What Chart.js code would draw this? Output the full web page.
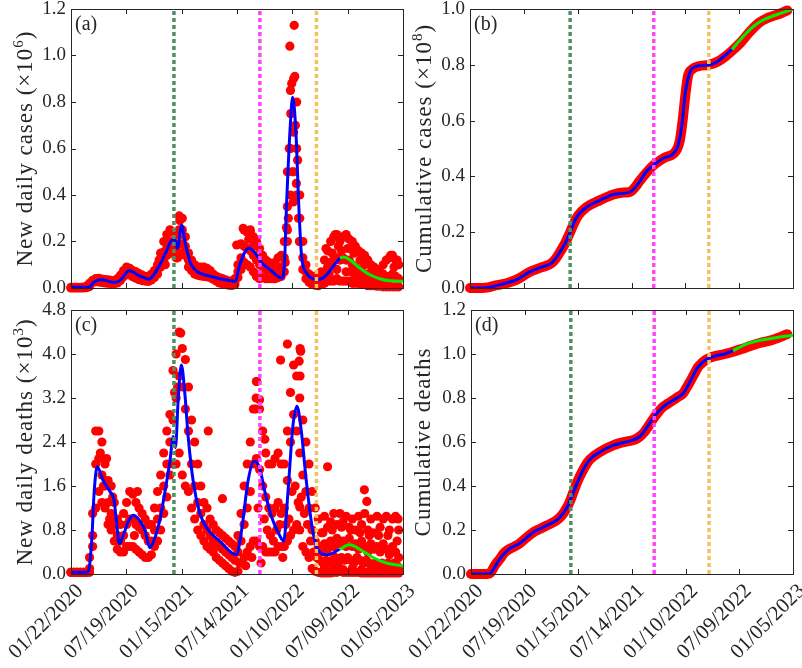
<!DOCTYPE html>
<html>
<head>
<meta charset="utf-8">
<script src="https://cdn.jsdelivr.net/npm/chart.js@4.4.0/dist/chart.umd.min.js"></script>
<style>
  body { margin: 0; background: #fff; width: 802px; height: 668px; overflow: hidden; position: relative; }
  canvas { position: absolute; left: 0; top: 0; }
</style>
</head>
<body>
<canvas id="chartA" width="802" height="668"></canvas>
<canvas id="chartB" width="802" height="668"></canvas>
<canvas id="chartC" width="802" height="668"></canvas>
<canvas id="chartD" width="802" height="668"></canvas>
<script>
// --- AXES (jours depuis le 01/22/2020) ---
const xTickDays = [0, 179, 358, 537, 716, 895, 1074];
const xTickLabels = ['01/22/2020', '07/19/2020', '01/15/2021', '07/14/2021', '01/10/2022', '07/09/2022', '01/05/2023'];
const eventDays = [333, 611, 794];
const eventColors = ['#4f8f62', '#ff44ff', '#f2c25e'];

const yTicksA = [0, 0.2, 0.4, 0.6, 0.8, 1.0, 1.2];
const yTicksB = [0, 0.2, 0.4, 0.6, 0.8, 1.0];
const yTicksC = [0, 0.8, 1.6, 2.4, 3.2, 4.0, 4.8];
const yTicksD = [0, 0.2, 0.4, 0.6, 0.8, 1.0, 1.2];

// --- DONNEES OBSERVEES (points rouges) ---
const sampleDays = [0,10,20,30,40,50,60,70,80,90,100,110,120,130,140,150,160,170,180,190,200,210,220,230,240,250,260,270,280,290,300,310,320,330,340,350,360,370,380,390,400,410,420,430,440,450,460,470,480,490,500,510,520,530,540,550,560,570,580,590,600,610,620,630,640,650,660,670,680,690,700,710,720,730,740,750,760,770,780,790,800,810,820,830,840,850,860,870,880,890,900,910,920,930,940,950,960,970,980,990,1000,1010,1020,1030,1040,1050,1060];

// nouveaux cas journaliers (x10^6)
const casesHi = [0.003,0.003,0.003,0.003,0.004,0.008,0.02,0.033,0.04,0.042,
  0.038,0.036,0.035,0.033,0.032,0.04,0.055,0.075,0.09,0.085,
  0.075,0.07,0.062,0.055,0.05,0.05,0.06,0.075,0.1,0.15,
  0.2,0.23,0.25,0.24,0.23,0.31,0.3,0.22,0.15,0.12,
  0.1,0.09,0.09,0.09,0.085,0.075,0.06,0.05,0.045,0.04,
  0.035,0.03,0.03,0.04,0.1,0.19,0.25,0.24,0.24,0.22,
  0.2,0.17,0.14,0.12,0.11,0.1,0.11,0.13,0.14,0.2,
  0.5,0.85,0.9,0.8,0.4,0.2,0.1,0.06,0.05,0.05,
  0.06,0.07,0.12,0.16,0.2,0.22,0.23,0.2,0.22,0.23,
  0.21,0.2,0.18,0.16,0.15,0.14,0.12,0.1,0.09,0.08,
  0.07,0.06,0.12,0.13,0.14,0.12,0.1];
const casesMid = [0.001,0.001,0.001,0.001,0.002,0.004,0.012,0.028,0.033,0.034,
  0.031,0.029,0.027,0.025,0.024,0.03,0.042,0.06,0.072,0.07,
  0.062,0.056,0.048,0.043,0.04,0.038,0.046,0.06,0.08,0.12,
  0.155,0.185,0.2,0.2,0.17,0.25,0.25,0.18,0.12,0.095,
  0.08,0.07,0.07,0.068,0.065,0.058,0.048,0.04,0.032,0.028,
  0.024,0.02,0.02,0.025,0.07,0.13,0.18,0.17,0.16,0.14,
  0.12,0.1,0.09,0.08,0.075,0.07,0.07,0.08,0.09,0.13,
  0.35,0.6,0.67,0.6,0.3,0.13,0.07,0.04,0.035,0.03,
  0.035,0.04,0.06,0.09,0.11,0.12,0.13,0.12,0.13,0.12,
  0.12,0.1,0.09,0.08,0.07,0.06,0.05,0.045,0.04,0.035,
  0.03,0.03,0.04,0.05,0.06,0.05,0.04];
const casesLo = [0,0,0,0,0,0.001,0.006,0.024,0.027,0.026,
  0.024,0.022,0.02,0.019,0.018,0.022,0.032,0.048,0.058,0.056,
  0.048,0.042,0.036,0.032,0.03,0.028,0.034,0.045,0.06,0.09,
  0.12,0.14,0.16,0.15,0.13,0.19,0.19,0.14,0.09,0.075,
  0.06,0.055,0.052,0.05,0.048,0.045,0.038,0.03,0.022,0.018,
  0.015,0.012,0.011,0.014,0.045,0.08,0.11,0.1,0.09,0.07,
  0.06,0.05,0.045,0.04,0.04,0.04,0.04,0.045,0.05,0.07,
  0.25,0.4,0.5,0.4,0.2,0.08,0.04,0.025,0.015,0.012,
  0.01,0.015,0.02,0.03,0.03,0.03,0.04,0.03,0.03,0.03,
  0.03,0.02,0.02,0.02,0.015,0.015,0.01,0.01,0.01,0.008,
  0.008,0.005,0.005,0.005,0.005,0.005,0.005];
const casesExtra = [[703,0.3],[706,0.6],[708,1.04],[711,0.75],[714,0.88],[716,0.5],[719,0.37],[722,1.13],
  [724,0.91],[726,0.7],[729,0.45],[733,0.55],[736,0.3],[739,0.2],[700,0.2],[697,0.26],[693,0.11],
  [557,0.257],[580,0.25],[536,0.185],[600,0.05],[610,0.04],[575,0.21],[590,0.18],
  [825,0.17],[845,0.15],[855,0.23],[865,0.18],[883,0.22],[895,0.17],[905,0.07],[915,0.15],[935,0.12],
  [950,0.1],[970,0.07],[990,0.06],[1010,0.1],[1034,0.14],[1045,0.09],[1055,0.12],
  [835,0.06],[860,0.08],[875,0.16],[890,0.07],[920,0.05],[945,0.04],[975,0.03],[1000,0.05],[1025,0.02],
  [285,0.12],[305,0.1],[330,0.18],[345,0.13],[352,0.29],[357,0.15]];

// nouveaux deces journaliers (x10^3)
const deathsHi = [0.03,0.03,0.03,0.03,0.03,0.03,0.3,1.1,2.6,2.6,
  2.4,2.0,1.7,1.6,1.3,1.0,0.9,1.1,1.3,1.5,
  1.45,1.3,1.2,1.1,1.0,0.9,0.9,1.2,1.5,1.8,
  2.2,2.6,2.9,3.7,4.0,4.4,4.1,3.9,3.4,2.8,
  2.4,2.0,1.6,1.3,1.2,1.0,0.9,0.8,0.75,0.7,
  0.65,0.6,0.55,0.5,0.7,1.1,1.6,2.0,2.4,3.0,
  3.5,3.0,2.6,2.2,2.0,2.0,2.1,2.2,2.0,2.0,
  2.6,3.3,3.8,3.6,3.2,2.8,2.4,2.0,1.5,1.2,
  1.0,0.75,1.05,0.85,0.95,1.1,0.9,1.1,0.95,1.05,
  0.85,1.0,0.8,1.05,0.9,1.1,0.8,1.0,0.75,1.05,
  0.85,1.0,1.05,0.8,1.0,1.05,0.8];
const deathsMid = [0.03,0.03,0.03,0.03,0.03,0.03,0.1,0.7,2.0,2.1,
  1.8,1.6,1.3,1.1,0.9,0.7,0.6,0.7,0.9,1.0,
  1.0,0.9,0.85,0.8,0.7,0.6,0.6,0.8,1.0,1.2,
  1.6,2.0,2.4,2.8,3.2,3.6,3.4,3.0,2.6,2.0,
  1.6,1.3,1.1,0.9,0.8,0.7,0.6,0.55,0.5,0.45,
  0.4,0.35,0.3,0.25,0.4,0.6,0.9,1.2,1.5,2.0,
  2.1,1.9,1.6,1.4,1.2,1.1,1.2,1.3,1.1,1.2,
  1.7,2.4,2.9,2.6,2.2,1.8,1.5,1.2,0.8,0.6,
  0.5,0.4,0.55,0.45,0.6,0.5,0.65,0.55,0.6,0.5,
  0.65,0.5,0.55,0.45,0.6,0.5,0.4,0.55,0.45,0.5,
  0.4,0.55,0.45,0.35,0.5,0.4,0.3];
const deathsLo = [0.03,0.03,0.03,0.03,0.03,0.03,0.03,0.5,1.2,1.5,
  1.3,1.2,0.9,0.8,0.6,0.45,0.4,0.4,0.5,0.5,
  0.5,0.45,0.4,0.35,0.3,0.3,0.35,0.5,0.6,0.8,
  1.1,1.4,1.8,2.0,2.0,2.2,1.8,1.6,1.5,1.2,
  1.0,0.8,0.7,0.6,0.5,0.45,0.4,0.3,0.25,0.2,
  0.15,0.1,0.05,0.03,0.05,0.2,0.3,0.4,0.5,0.6,
  0.6,0.5,0.5,0.4,0.4,0.4,0.4,0.5,0.5,0.5,
  0.6,0.7,0.8,0.9,0.8,0.5,0.4,0.3,0.1,0.05,
  0.03,0.02,0.02,0.02,0.02,0.03,0.03,0.05,0.03,0.03,
  0.03,0.03,0.03,0.03,0.02,0.02,0.02,0.02,0.02,0.02,
  0.02,0.02,0.02,0.02,0.02,0.02,0.02];
const deathsExtra = [[700,4.18],[741,4.1],[743,4.05],[678,3.89],[738,3.87],[741,3.6],[601,3.5],[599,3.2],
  [610,3.17],[597,3.0],[627,2.45],[830,1.95],[949,1.53],[957,1.32],[740,1.22],[444,2.6],[490,1.37],
  [355,4.38],[345,3.4],[335,3.3],[95,2.2],[105,1.6],[115,2.1],[125,1.0],[135,1.4],[205,0.7],[215,1.5],
  [545,0.2],[565,0.15],[585,0.3],[605,1.2],[615,0.2],[625,1.0],[635,0.8],[645,0.7],[655,0.6],[665,0.8],
  [675,0.9],[685,0.3],[695,0.9],[705,1.0],[715,1.5],[725,1.6],[735,1.3],[745,1.4],[755,1.1],[765,0.9],
  [775,0.6],[785,0.4],[795,0.3],[805,0.25],[815,0.2],[825,0.25],[835,0.2],[845,0.25],[855,0.3],[865,0.2],
  [875,0.3],[885,0.25],[895,0.3],[905,0.25],[915,0.2],[925,0.3],[935,0.25],[945,0.2],[955,0.25],[965,0.2],
  [975,0.15],[985,0.2],[995,0.15],[1005,0.2],[1015,0.15],[1025,0.2],[1035,0.15],[1045,0.2],[1055,0.15],
  [815,0.75],[845,0.8],[875,0.85],[905,0.8],[935,0.75],[965,0.7],[995,0.7],[1025,0.7],[1055,0.6],[1058,1.0],
  [820,0.1],[850,0.12],[880,0.08],[910,0.1],[940,0.08],[970,0.1],[1000,0.08],[1030,0.1],[1060,0.08]];

// cumuls observes
const cumCasesDays = [0,40,60,80,100,130,155,175,194,215,235,255,272,285,300,316,333,345,360,388,433,477,510,533,548,565,588,610,643,688,698,707,716,725,740,760,793,821,849,871,900,930,960,990,1030,1055];
const cumCasesObs = [0,0,0.002,0.008,0.012,0.02,0.03,0.042,0.055,0.065,0.073,0.08,0.09,0.105,0.13,0.16,0.2,0.23,0.26,0.29,0.315,0.335,0.342,0.345,0.36,0.385,0.415,0.44,0.465,0.497,0.53,0.6,0.69,0.76,0.785,0.795,0.8,0.81,0.83,0.85,0.88,0.918,0.95,0.968,0.983,0.995];
const cumDeathsDays = [0,55,65,80,97,110,124,145,163,185,208,230,252,275,291,305,319,330,341,355,369,383,396,430,474,505,530,548,563,578,591,603,613,627,641,657,674,690,707,718,729,743,757,771,785,800,813,830,846,874,918,963,1007,1055];
const cumDeathsObs = [0,0,0.005,0.04,0.07,0.095,0.11,0.125,0.14,0.165,0.19,0.205,0.22,0.235,0.25,0.27,0.3,0.33,0.37,0.42,0.46,0.495,0.52,0.555,0.585,0.598,0.605,0.612,0.625,0.645,0.67,0.695,0.715,0.74,0.76,0.775,0.79,0.805,0.82,0.845,0.87,0.905,0.94,0.96,0.975,0.985,0.99,0.995,1.0,1.01,1.03,1.05,1.065,1.09];

// --- MODELE (bleu = ajustement, vert = prevision) ---
const fitDaysA = [0,59,70,80,100,140,161,188,225,252,279,306,328,336,344,358,370,387,408,440,483,532,542,558,575,596,618,644,682,690,698,709,717,728,736,746,762,784,800,822,848,870];
const fitCasesA = [0.003,0.003,0.02,0.03,0.035,0.024,0.035,0.074,0.05,0.038,0.08,0.15,0.207,0.207,0.17,0.27,0.19,0.107,0.07,0.054,0.04,0.029,0.08,0.143,0.171,0.15,0.107,0.079,0.043,0.093,0.38,0.69,0.82,0.66,0.38,0.136,0.064,0.039,0.036,0.05,0.093,0.129];
const predDaysA = [870,881,902,934,967,999,1031,1074];
const predCasesA = [0.129,0.133,0.121,0.086,0.057,0.04,0.031,0.029];

const fitDaysB = [0,40,67,100,155,194,233,272,294,316,333,355,388,433,477,533,560,588,610,643,688,704,716,730,754,793,821,849,871];
const fitCasesB = [0,0,0.003,0.012,0.03,0.055,0.073,0.09,0.12,0.16,0.2,0.255,0.29,0.315,0.335,0.345,0.375,0.42,0.44,0.465,0.5,0.58,0.7,0.77,0.795,0.8,0.81,0.835,0.855];
const predDaysB = [871,895,920,945,970,1000,1035,1074];
const predCasesB = [0.855,0.885,0.915,0.94,0.958,0.972,0.985,1.0];

const fitDaysC = [0,50,56,67,75,85,104,126,139,148,156,169,185,201,218,239,255,271,288,304,320,331,338,347,357,368,379,395,417,444,481,535,552,573,592,609,627,648,675,688,702,718,731,745,761,783,804,831,869];
const fitDeathsC = [0.03,0.03,0.05,0.6,1.5,1.95,1.7,1.5,1.35,0.9,0.55,0.7,0.95,1.07,1.0,0.8,0.48,0.65,1.0,1.5,2.05,2.5,2.3,3.2,3.8,3.3,2.5,1.7,1.1,0.8,0.6,0.35,0.8,1.7,2.05,1.95,1.5,1.05,0.7,0.6,1.5,2.7,3.05,2.6,1.7,0.75,0.4,0.35,0.45];
const predDaysC = [869,901,934,977,1020,1074];
const predDeathsC = [0.45,0.53,0.45,0.3,0.2,0.15];

const fitDaysD = [0,60,69,97,124,163,208,252,291,319,341,369,396,430,474,530,563,591,613,641,674,707,729,757,785,813,846,874];
const fitDeathsD = [0,0,0.01,0.07,0.11,0.14,0.19,0.22,0.25,0.3,0.37,0.46,0.52,0.555,0.585,0.605,0.625,0.675,0.72,0.76,0.79,0.82,0.87,0.94,0.975,0.99,1.0,1.015];
const predDaysD = [874,918,963,1007,1040,1074];
const predDeathsD = [1.015,1.045,1.062,1.072,1.08,1.085];

// --- OUTILS ---
const TXT = '#262626';
const SERIF = '"Liberation Serif", "Times New Roman", serif';
const pts = (xs, ys) => xs.map((x, i) => ({ x: x, y: ys[i] }));
const pairs = (arr) => arr.map(p => ({ x: p[0], y: p[1] }));

function eventSets(yMax) {
    return eventDays.map((d, i) => ({
        data: [{ x: d, y: 0 }, { x: d, y: yMax }], showLine: true, borderColor: eventColors[i],
        borderWidth: 3.5, borderDash: [4, 3], borderCapStyle: 'butt', pointRadius: 0, order: 0
    }));
}
function curve(data, color, order) {
    return { data: data, showLine: true, borderColor: color, borderWidth: 3, pointRadius: 0,
        cubicInterpolationMode: 'monotone', order: order };
}
function dots(data) {
    return { data: data, showLine: false, pointRadius: 4.6, pointBorderWidth: 0,
        pointBackgroundColor: '#ff0000', borderColor: '#ff0000', clip: false, order: 5 };
}
function band(data) {
    return { data: data, showLine: true, borderColor: '#ff0000', borderWidth: 10, pointRadius: 0,
        borderCapStyle: 'round', borderJoinStyle: 'round', cubicInterpolationMode: 'monotone', clip: false, order: 5 };
}

const framePlugin = {
    id: 'frame',
    afterDraw(chart, args, o) {
        const ctx = chart.ctx, a = chart.chartArea, xs = chart.scales.x, ys = chart.scales.y;
        ctx.save();
        ctx.strokeStyle = TXT; ctx.lineWidth = 1;
        ctx.beginPath();
        xTickDays.forEach(v => {
            let px = Math.round(xs.getPixelForValue(v)) + 0.5;
            ctx.moveTo(px, a.bottom); ctx.lineTo(px, a.bottom - 5);
            ctx.moveTo(px, a.top); ctx.lineTo(px, a.top + 5);
        });
        o.yTicks.forEach(v => {
            let py = Math.round(ys.getPixelForValue(v)) + 0.5;
            ctx.moveTo(a.left, py); ctx.lineTo(a.left + 5, py);
            ctx.moveTo(a.right, py); ctx.lineTo(a.right - 5, py);
        });
        ctx.stroke();
        ctx.strokeRect(Math.round(a.left) + 0.5, Math.round(a.top) + 0.5, Math.round(a.right - a.left), Math.round(a.bottom - a.top));

        ctx.fillStyle = TXT;
        ctx.font = '20px ' + SERIF;
        ctx.textBaseline = 'top';
        ctx.fillText(o.letter, a.left + 4, a.top + 6);

        // titre de l'axe y, avec exposant
        ctx.translate(o.titleX, (a.top + a.bottom) / 2);
        ctx.rotate(-Math.PI / 2);
        ctx.letterSpacing = '1px';
        ctx.textBaseline = 'alphabetic';
        let total = 0;
        o.title.forEach(p => { ctx.font = (p.sup ? '15px ' : '23px ') + SERIF; p.w = ctx.measureText(p.text).width; total += p.w; });
        let x = -total / 2;
        o.title.forEach(p => {
            ctx.font = (p.sup ? '15px ' : '23px ') + SERIF;
            ctx.fillText(p.text, x, p.sup ? -2 : 7);
            x += p.w;
        });
        ctx.restore();
    }
};

function makePanel(id, area, yTicks, xLabels, datasets, frameOpts) {
    const YW = 60, XH = xLabels ? 90 : 20;
    frameOpts.yTicks = yTicks;
    return new Chart(document.getElementById(id), {
        type: 'scatter',
        data: { datasets: datasets },
        plugins: [framePlugin],
        options: {
            responsive: false, animation: false, events: [],
            layout: { autoPadding: false, padding: { left: area.l - YW, top: area.t, right: 802 - area.r, bottom: 668 - area.b - XH } },
            plugins: { legend: { display: false }, tooltip: { enabled: false }, frame: frameOpts },
            scales: {
                x: {
                    type: 'linear', min: 0, max: 1074,
                    afterBuildTicks: s => { s.ticks = xTickDays.map(v => ({ value: v })); },
                    afterFit: s => { s.height = XH; s.paddingLeft = 0; s.paddingRight = 0; },
                    grid: { display: false, drawTicks: false }, border: { display: false },
                    ticks: { display: xLabels, autoSkip: false, minRotation: 45, maxRotation: 45, padding: 5,
                        labelOffset: 9, color: TXT, font: { family: SERIF, size: 21 },
                        callback: (v, i) => xTickLabels[i] }
                },
                y: {
                    type: 'linear', min: yTicks[0], max: yTicks[yTicks.length - 1],
                    afterBuildTicks: s => { s.ticks = yTicks.map(v => ({ value: v })); },
                    afterFit: s => { s.width = YW; s.paddingTop = 0; s.paddingBottom = 0; },
                    grid: { display: false, drawTicks: false }, border: { display: false },
                    ticks: { padding: 5, color: TXT, font: { family: SERIF, size: 19 },
                        callback: (v, i) => yTicks[i].toFixed(1) }
                }
            }
        }
    });
}

window.onload = function () {
    makePanel('chartA', { l: 71, t: 9, r: 403, b: 288 }, yTicksA, false, [
        ...eventSets(1.2),
        curve(pts(predDaysA, predCasesA), '#00ee00', 1),
        curve(pts(fitDaysA, fitCasesA), '#0000ff', 1),
        dots([...pts(sampleDays, casesHi), ...pts(sampleDays, casesMid), ...pts(sampleDays, casesLo), ...pairs(casesExtra)])
    ], { letter: '(a)', titleX: 25, title: [{ text: 'New daily cases (×10' }, { text: '6', sup: true }, { text: ')' }] });

    makePanel('chartB', { l: 470, t: 9, r: 793, b: 288 }, yTicksB, false, [
        ...eventSets(1.0),
        curve(pts(predDaysB, predCasesB), '#00ee00', 1),
        curve(pts(fitDaysB, fitCasesB), '#0000ff', 1),
        band(pts(cumCasesDays, cumCasesObs))
    ], { letter: '(b)', titleX: 424, title: [{ text: 'Cumulative cases (×10' }, { text: '8', sup: true }, { text: ')' }] });

    makePanel('chartC', { l: 71, t: 310, r: 403, b: 574 }, yTicksC, true, [
        ...eventSets(4.8),
        curve(pts(predDaysC, predDeathsC), '#00ee00', 1),
        curve(pts(fitDaysC, fitDeathsC), '#0000ff', 1),
        dots([...pts(sampleDays, deathsHi), ...pts(sampleDays, deathsMid), ...pts(sampleDays, deathsLo), ...pairs(deathsExtra)])
    ], { letter: '(c)', titleX: 25, title: [{ text: 'New daily deaths (×10' }, { text: '3', sup: true }, { text: ')' }] });

    makePanel('chartD', { l: 471, t: 310, r: 793, b: 574 }, yTicksD, true, [
        ...eventSets(1.2),
        curve(pts(predDaysD, predDeathsD), '#00ee00', 1),
        curve(pts(fitDaysD, fitDeathsD), '#0000ff', 1),
        band(pts(cumDeathsDays, cumDeathsObs))
    ], { letter: '(d)', titleX: 423, title: [{ text: 'Cumulative deaths' }] });
};
</script>
</body>
</html>
